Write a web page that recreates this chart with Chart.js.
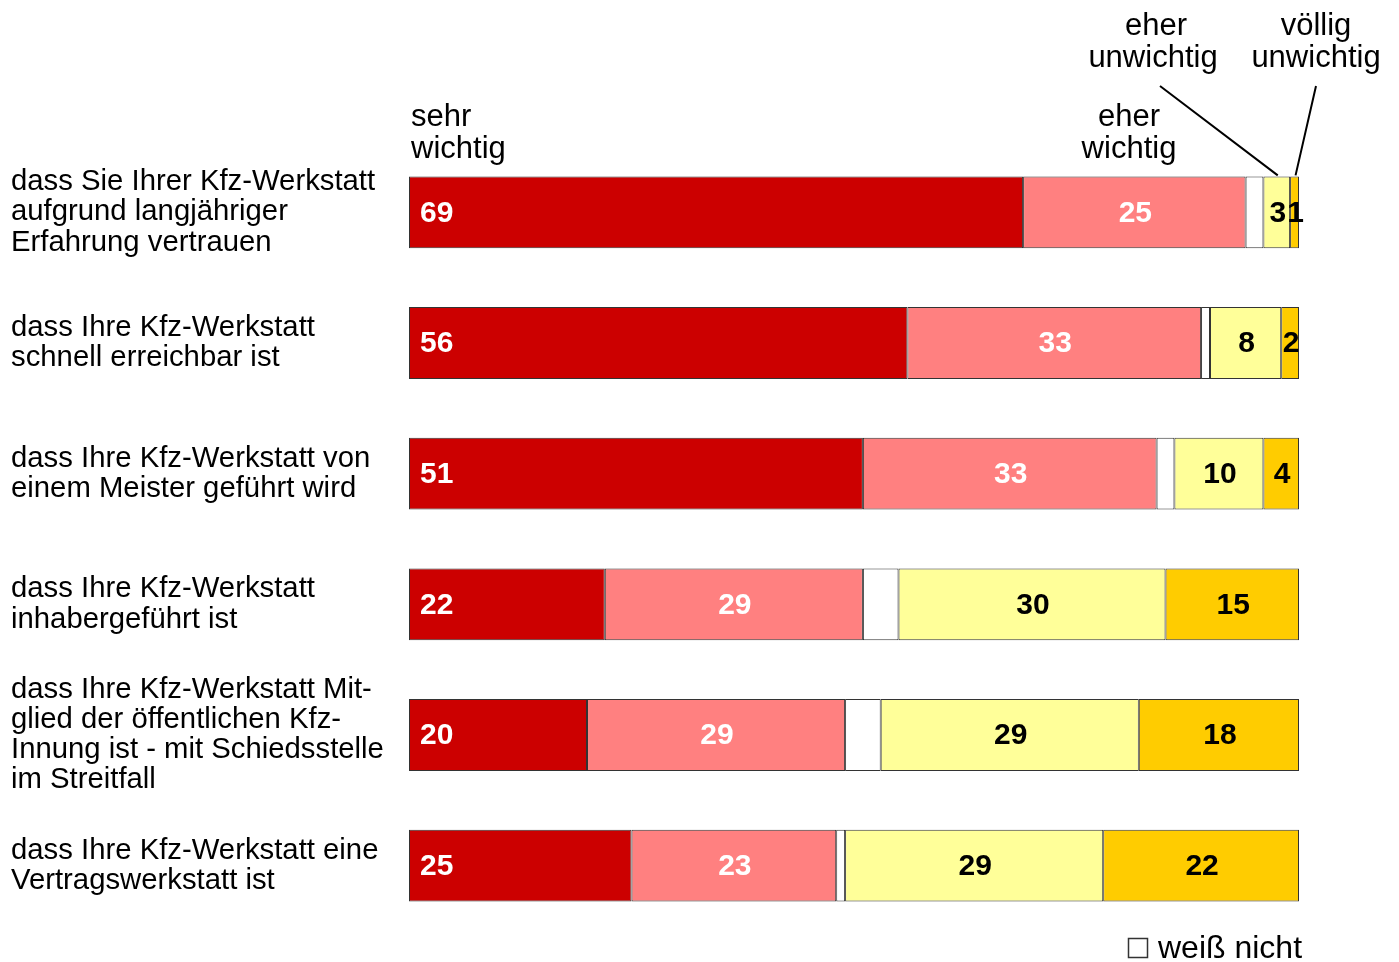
<!DOCTYPE html>
<html>
<head>
<meta charset="utf-8">
<script src="https://cdn.jsdelivr.net/npm/chart.js@4.4.1/dist/chart.umd.min.js"></script>
<style>
  body { margin: 0; background: #fff; }
  canvas { display: block; }
</style>
</head>
<body>
<canvas id="myChart" width="1399" height="962"></canvas>
<script>
// Data
const categories = [
  ['dass Sie Ihrer Kfz-Werkstatt', 'aufgrund langjähriger', 'Erfahrung vertrauen'],
  ['dass Ihre Kfz-Werkstatt', 'schnell erreichbar ist'],
  ['dass Ihre Kfz-Werkstatt von', 'einem Meister geführt wird'],
  ['dass Ihre Kfz-Werkstatt', 'inhabergeführt ist'],
  ['dass Ihre Kfz-Werkstatt Mit-', 'glied der öffentlichen Kfz-', 'Innung ist - mit Schiedsstelle', 'im Streitfall'],
  ['dass Ihre Kfz-Werkstatt eine', 'Vertragswerkstatt ist']
];
const sehrWichtig = [69, 56, 51, 22, 20, 25];
const eherWichtig = [25, 33, 33, 29, 29, 23];
const weissNicht = [2, 1, 2, 4, 4, 1];
const eherUnwichtig = [3, 8, 10, 30, 29, 29];
const voelligUnwichtig = [1, 2, 4, 15, 18, 22];

const FONT = "'Liberation Sans', Arial, sans-serif";
const borderCol = '#333333';

// Value labels inside the segments
const valueLabels = {
  id: 'valueLabels',
  afterDatasetsDraw(chart) {
    const ctx = chart.ctx;
    ctx.save();
    ctx.font = 'bold 30px ' + FONT;
    ctx.textBaseline = 'middle';
    chart.data.datasets.forEach((ds, di) => {
      if (ds.label === 'weiß nicht') return;
      const meta = chart.getDatasetMeta(di);
      meta.data.forEach((el, i) => {
        const v = ds.data[i];
        ctx.fillStyle = di < 2 ? '#ffffff' : '#000000';
        if (di === 0) {
          ctx.textAlign = 'left';
          ctx.fillText(v, el.base + 11, el.y + 1);
        } else {
          ctx.textAlign = 'center';
          ctx.fillText(v, (el.x + el.base) / 2 + 1, el.y + 1);
        }
      });
    });
    ctx.restore();
  }
};

// Header captions, leader lines and the "weiß nicht" key
const annotations = {
  id: 'annotations',
  afterDraw(chart) {
    const ctx = chart.ctx;
    const x = chart.scales.x;
    const first = chart.getDatasetMeta(3).data[0];
    const topY = first.y - first.height / 2;
    ctx.save();
    ctx.fillStyle = '#000';
    ctx.font = '31px ' + FONT;
    ctx.textBaseline = 'middle';

    ctx.textAlign = 'left';
    ctx.fillText('sehr', x.left + 2, 117);
    ctx.fillText('wichtig', x.left + 2, 149);

    ctx.textAlign = 'center';
    ctx.fillText('eher', 1129, 117);
    ctx.fillText('wichtig', 1129, 149);
    ctx.fillText('eher', 1156, 26);
    ctx.fillText('unwichtig', 1153, 58);
    ctx.fillText('völlig', 1316, 26);
    ctx.fillText('unwichtig', 1316, 58);

    // leader lines to the small segments of the first bar
    const c0 = sehrWichtig[0] + eherWichtig[0] + weissNicht[0];
    const yMid = x.getPixelForValue(c0 + eherUnwichtig[0] / 2);
    const oMid = x.getPixelForValue(c0 + eherUnwichtig[0] + voelligUnwichtig[0] / 2);
    ctx.strokeStyle = '#000';
    ctx.lineWidth = 2;
    ctx.beginPath();
    ctx.moveTo(1160, 86);
    ctx.lineTo(yMid + 1, topY - 1);
    ctx.moveTo(1316, 86);
    ctx.lineTo(oMid + 1, topY - 1);
    ctx.stroke();

    // key
    ctx.lineWidth = 1.5;
    ctx.strokeStyle = '#333';
    ctx.strokeRect(1128.5, 938.5, 19, 19);
    ctx.textAlign = 'left';
    ctx.font = '32px ' + FONT;
    ctx.fillText('weiß nicht', 1158, 949);
    ctx.restore();
  }
};

const makeSet = (label, data, color) => ({
  label: label,
  data: data,
  backgroundColor: color,
  borderColor: borderCol,
  borderWidth: 1,
  borderSkipped: false,
  barPercentage: 0.55,
  categoryPercentage: 1
});

const data = {
  labels: categories,
  datasets: [
    makeSet('sehr wichtig', sehrWichtig, '#cc0000'),
    makeSet('eher wichtig', eherWichtig, '#ff8080'),
    makeSet('weiß nicht', weissNicht, '#ffffff'),
    makeSet('eher unwichtig', eherUnwichtig, '#ffff99'),
    makeSet('völlig unwichtig', voelligUnwichtig, '#ffcc00')
  ]
};

const config = {
  type: 'bar',
  data: data,
  options: {
    indexAxis: 'y',
    responsive: false,
    animation: false,
    layout: { padding: { left: 11, right: 100, top: 147, bottom: 31 } },
    plugins: {
      legend: { display: false },
      tooltip: { enabled: false }
    },
    scales: {
      x: { stacked: true, min: 0, max: 100, display: false },
      y: {
        stacked: true,
        grid: { display: false },
        border: { display: false },
        ticks: {
          color: '#000',
          crossAlign: 'far',
          padding: 0,
          font: { family: FONT, size: 29.3, lineHeight: 1.03 }
        },
        afterFit(scale) {
          scale.width = 398;
          scale.paddingTop = 0;
          scale.paddingBottom = 0;
        }
      }
    }
  },
  plugins: [valueLabels, annotations]
};

const ctx = document.getElementById('myChart').getContext('2d');
const mychart = new Chart(ctx, config);
</script>
</body>
</html>
